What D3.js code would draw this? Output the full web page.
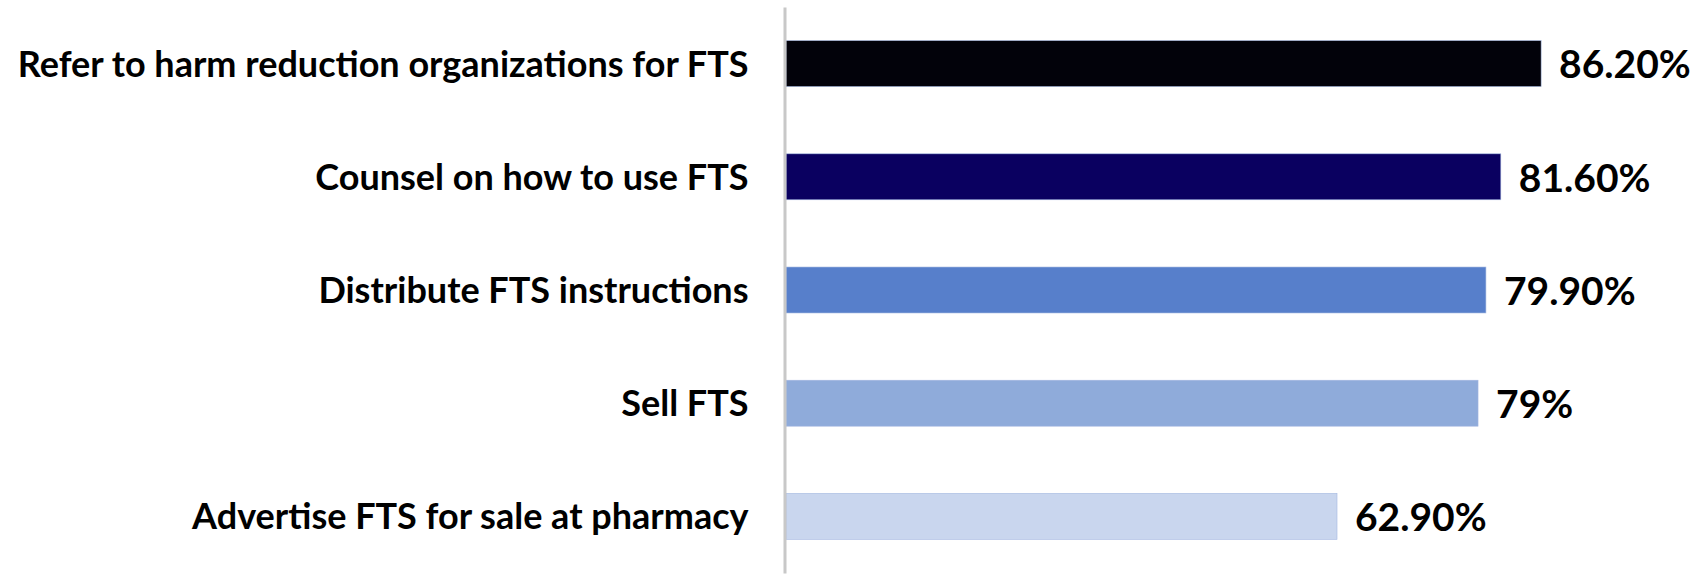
<!DOCTYPE html>
<html>
<head>
<meta charset="utf-8">
<script src="https://cdn.jsdelivr.net/npm/d3@7"></script>
<style>
  html, body { margin: 0; padding: 0; background: #fff; }
  text { font-family: Lato, "Open Sans", sans-serif; font-weight: bold; fill: #000; }
</style>
</head>
<body>
<div id="chart"></div>
<script>
const WIDTH = 1692;
const HEIGHT = 578;

// Data.
const categories = [
  "Refer to harm reduction organizations for FTS",
  "Counsel on how to use FTS",
  "Distribute FTS instructions",
  "Sell FTS",
  "Advertise FTS for sale at pharmacy"
];
const values = [86.2, 81.6, 79.9, 79, 62.9];
const valueLabels = ["86.20%", "81.60%", "79.90%", "79%", "62.90%"];
const barColors = ["#02020a", "#0a0060", "#577fcb", "#8fabda", "#c9d6ee"];

const rows = categories.map(function (c, i) {
  return {name: c, value: values[i], label: valueLabels[i], color: barColors[i]};
});

var svg = d3.select("#chart").append("svg")
            .attr("width", WIDTH)
            .attr("height", HEIGHT);

var x = d3.scaleLinear().domain([0, 100]).range([786, 1662]);

var y = d3.scaleBand()
          .domain(categories)
          .range([7, 573])
          .paddingInner(0.594)
          .paddingOuter(0.297);

// bars
svg.selectAll("rect.bar")
   .data(rows)
   .enter()
   .append("rect")
   .attr("class", "bar")
   .attr("x", x(0))
   .attr("y", function (d) { return y(d.name); })
   .attr("width", function (d) { return x(d.value) - x(0); })
   .attr("height", y.bandwidth())
   .attr("fill", function (d) { return d.color; })
   .attr("stroke", "#a3b6e0")
   .attr("stroke-width", 0.6);

// vertical axis line, category labels
var yAxis = d3.axisLeft(y).tickSize(0).tickPadding(36);
var ag = svg.append("g")
            .attr("transform", "translate(" + (x(0) - 1.5) + ",0)")
            .call(yAxis);
ag.select(".domain").attr("stroke", "#c8c8c8").attr("stroke-width", 3);
ag.selectAll("text")
  .attr("font-size", "36px")
  .attr("font-family", "Lato, sans-serif")
  .attr("font-weight", "bold")
  .attr("fill", "#000")
  .attr("dy", "0.36em");

// value labels
svg.selectAll("text.val")
   .data(rows)
   .enter()
   .append("text")
   .attr("class", "val")
   .attr("x", function (d) { return x(d.value) + 18; })
   .attr("y", function (d) { return y(d.name) + y.bandwidth() / 2; })
   .attr("dy", "0.38em")
   .attr("font-size", "39px")
   .text(function (d) { return d.label; });
</script>
</body>
</html>
